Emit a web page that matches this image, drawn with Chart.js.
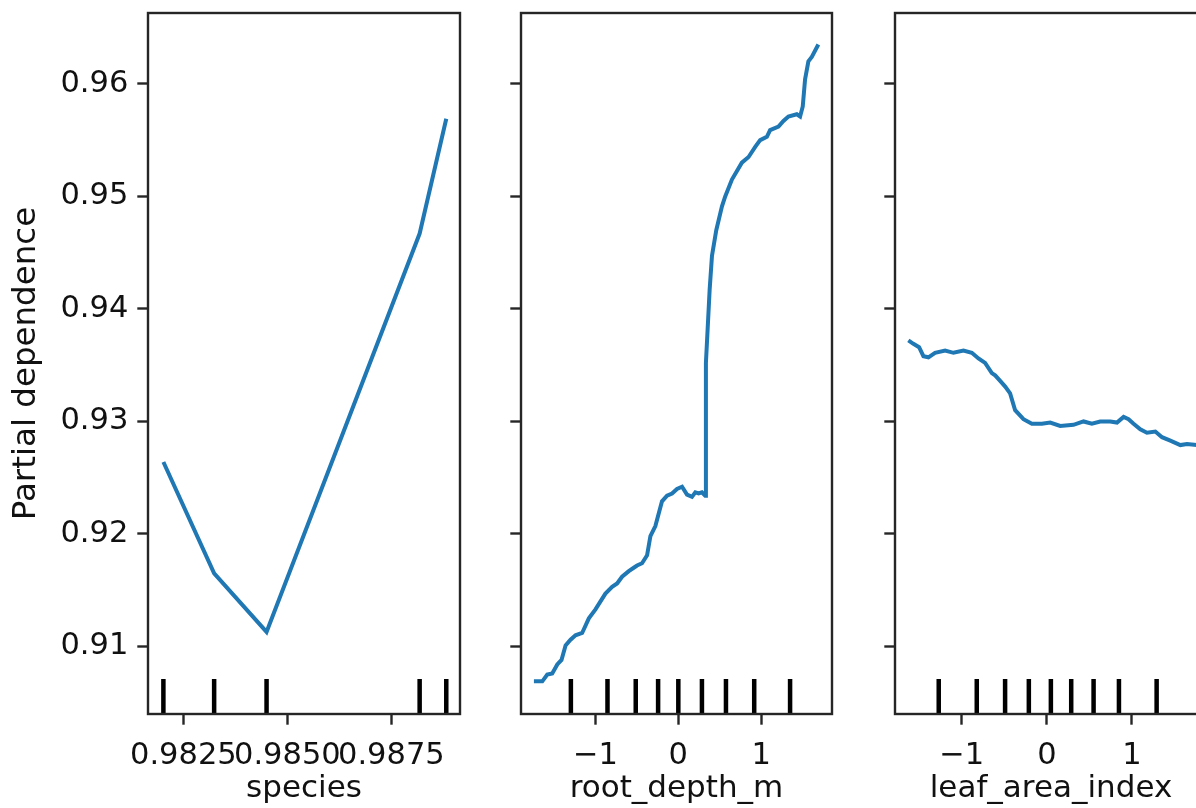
<!DOCTYPE html>
<html>
<head>
<meta charset="utf-8">
<script src="https://cdn.jsdelivr.net/npm/chart.js@4.4.0/dist/chart.umd.min.js"></script>
<style>
  html, body { margin: 0; padding: 0; background: #fff; overflow: hidden; width: 1196px; height: 808px; }
  canvas { position: absolute; top: 0; }
</style>
</head>
<body>
<canvas id="pdSpecies" width="470" height="808" style="left:0px"></canvas>
<canvas id="pdRoot" width="352" height="808" style="left:490px"></canvas>
<canvas id="pdLeaf" width="352" height="808" style="left:865px"></canvas>
<script>
// Partial dependence plots, shared y axis

const yMin = 0.9040;
const yMax = 0.9663;
const yTicks = [0.91, 0.92, 0.93, 0.94, 0.95, 0.96];
const yTickLabels = ['0.91', '0.92', '0.93', '0.94', '0.95', '0.96'];

// species
const speciesX = [0.98202, 0.98324, 0.98450, 0.98818, 0.98882];
const speciesPD = [0.9264, 0.9165, 0.9113, 0.9467, 0.9569];
const speciesDeciles = [0.98202, 0.98324, 0.98450, 0.98818, 0.98882];
const speciesTicks = [0.9825, 0.985, 0.9875];
const speciesTickLabels = ['0.9825', '0.9850', '0.9875'];

// root_depth_m
const rootX = [-1.743, -1.642, -1.582, -1.522, -1.461, -1.410, -1.361, -1.301, -1.241, -1.161,
  -1.080, -1.000, -0.880, -0.799, -0.739, -0.679, -0.598, -0.538, -0.498, -0.438,
  -0.377, -0.337, -0.277, -0.197, -0.136, -0.076, -0.016, 0.045, 0.105, 0.165,
  0.205, 0.245, 0.285, 0.325, 0.333, 0.378, 0.406, 0.458, 0.526, 0.566,
  0.647, 0.767, 0.848, 0.928, 0.988, 1.069, 1.108, 1.209, 1.269, 1.329,
  1.430, 1.470, 1.502, 1.530, 1.570, 1.611, 1.690];
const rootPD = [0.9069, 0.9069, 0.9075, 0.9076, 0.9084, 0.9088, 0.9101, 0.9106, 0.9110, 0.9112,
  0.9125, 0.9133, 0.9147, 0.9153, 0.9156, 0.9162, 0.9167, 0.9170, 0.9172, 0.9174,
  0.9181, 0.9198, 0.9207, 0.9229, 0.9234, 0.9236, 0.9240, 0.9242, 0.9235, 0.9233,
  0.9237, 0.9236, 0.9237, 0.9234, 0.9352, 0.9417, 0.9447, 0.9470, 0.9491, 0.9500,
  0.9515, 0.9530, 0.9535, 0.9544, 0.9550, 0.9553, 0.9559, 0.9562, 0.9567, 0.9571,
  0.9573, 0.9571, 0.9580, 0.9604, 0.9620, 0.9624, 0.9635];
const rootDeciles = [-1.297, -0.855, -0.514, -0.244, 0.0, 0.285, 0.575, 0.916, 1.349];
const rootTicks = [-1, 0, 1];
const rootTickLabels = ['\u22121', '0', '1'];

// leaf_area_index
const leafX = [-1.628, -1.569, -1.502, -1.451, -1.392, -1.314, -1.196, -1.098, -0.980, -0.882,
  -0.804, -0.726, -0.647, -0.608, -0.549, -0.490, -0.432, -0.373, -0.275, -0.176,
  -0.059, 0.039, 0.157, 0.313, 0.431, 0.529, 0.627, 0.745, 0.824, 0.902,
  0.960, 1.019, 1.098, 1.176, 1.275, 1.353, 1.451, 1.569, 1.647, 1.760];
const leafPD = [0.9372, 0.9369, 0.9366, 0.9358, 0.9357, 0.9361, 0.9363, 0.9361, 0.9363, 0.9361,
  0.9356, 0.9352, 0.9343, 0.9341, 0.9336, 0.9331, 0.9325, 0.9310, 0.9302, 0.9298,
  0.9298, 0.9299, 0.9296, 0.9297, 0.9300, 0.9298, 0.9300, 0.9300, 0.9299, 0.9304,
  0.9302, 0.9298, 0.9293, 0.9290, 0.9291, 0.9286, 0.9283, 0.9279, 0.9280, 0.9279];
const leafDeciles = [-1.271, -0.824, -0.491, -0.212, 0.047, 0.286, 0.549, 0.847, 1.290];
const leafTicks = [-1, 0, 1];
const leafTickLabels = ['\u22121', '0', '1'];

const pdBlue = '#1f77b4';
const inkColor = '#111';
const spineColor = '#262626';
const fontFamily = "'DejaVu Sans', sans-serif";
const tickFont = { family: fontFamily, size: 30.5 };
const xTitleFont = { family: fontFamily, size: 31 };
const yTitleFont = { family: fontFamily, size: 32.5 };

const spines = {
  id: 'spines',
  afterDatasetsDraw(chart) {
    const { ctx, chartArea: a } = chart;
    ctx.save();
    ctx.strokeStyle = spineColor;
    ctx.lineWidth = 2.4;
    ctx.strokeRect(a.left, a.top, a.right - a.left, a.bottom - a.top);
    ctx.restore();
  }
};

function toPoints(xs, ys) {
  return xs.map((x, i) => ({ x: x, y: ys[i] }));
}

// short marks at the bottom, 5% of the axes height
function decileSegments(deciles) {
  const top = yMin + 0.05 * (yMax - yMin);
  const pts = [];
  deciles.forEach(d => {
    pts.push({ x: d, y: yMin }, { x: d, y: top }, { x: d, y: null });
  });
  return pts;
}

function makePanel(id, p) {
  return new Chart(document.getElementById(id), {
    type: 'line',
    data: {
      datasets: [{
        data: toPoints(p.xs, p.ys),
        borderColor: pdBlue,
        borderWidth: 4,
        pointRadius: 0,
        tension: 0
      }, {
        data: decileSegments(p.deciles),
        borderColor: '#000',
        borderWidth: 4.5,
        borderCapStyle: 'butt',
        pointRadius: 0,
        spanGaps: false
      }]
    },
    options: {
      responsive: false,
      animation: false,
      events: [],
      layout: { padding: { left: 0, right: 10, top: 13, bottom: 0 } },
      scales: {
        x: {
          type: 'linear',
          min: p.xMin,
          max: p.xMax,
          afterBuildTicks: s => { s.ticks = p.ticks.map(v => ({ value: v })); },
          afterFit: s => { s.height = 94; s.paddingLeft = 0; s.paddingRight = 0; },
          ticks: {
            autoSkip: false, maxRotation: 0, minRotation: 0,
            padding: 13, color: inkColor, font: tickFont,
            callback: (v, i) => p.tickLabels[i]
          },
          grid: {
            drawOnChartArea: false, drawTicks: true,
            tickLength: 10.7, tickWidth: 2.4, tickColor: spineColor
          },
          border: { display: false },
          title: {
            display: true, text: p.xTitle, color: inkColor, font: xTitleFont,
            padding: { top: 0, bottom: 0 }
          }
        },
        y: {
          type: 'linear',
          min: yMin,
          max: yMax,
          afterBuildTicks: s => { s.ticks = yTicks.map(v => ({ value: v })); },
          afterFit: s => { s.width = p.yWidth; s.paddingTop = 0; s.paddingBottom = 0; },
          ticks: {
            display: p.showYLabels,
            padding: 9, color: inkColor, font: tickFont,
            callback: (v, i) => yTickLabels[i]
          },
          grid: {
            drawOnChartArea: false, drawTicks: true,
            tickLength: 10.7, tickWidth: 2.4, tickColor: spineColor
          },
          border: { display: false },
          title: {
            display: !!p.yTitle, text: p.yTitle || '', color: inkColor, font: yTitleFont,
            padding: { top: 7, bottom: 0 }
          }
        }
      },
      plugins: {
        legend: { display: false },
        tooltip: { enabled: false }
      }
    },
    plugins: [spines]
  });
}

makePanel('pdSpecies', {
  xs: speciesX, ys: speciesPD, deciles: speciesDeciles,
  xMin: 0.98165, xMax: 0.98915,
  ticks: speciesTicks, tickLabels: speciesTickLabels,
  xTitle: 'species', yTitle: 'Partial dependence',
  yWidth: 148, showYLabels: true
});

makePanel('pdRoot', {
  xs: rootX, ys: rootPD, deciles: rootDeciles,
  xMin: -1.899, xMax: 1.855,
  ticks: rootTicks, tickLabels: rootTickLabels,
  xTitle: 'root_depth_m',
  yWidth: 31, showYLabels: false
});

makePanel('pdLeaf', {
  xs: leafX, ys: leafPD, deciles: leafDeciles,
  xMin: -1.785, xMax: 1.882,
  ticks: leafTicks, tickLabels: leafTickLabels,
  xTitle: 'leaf_area_index',
  yWidth: 30, showYLabels: false
});
</script>
</body>
</html>
